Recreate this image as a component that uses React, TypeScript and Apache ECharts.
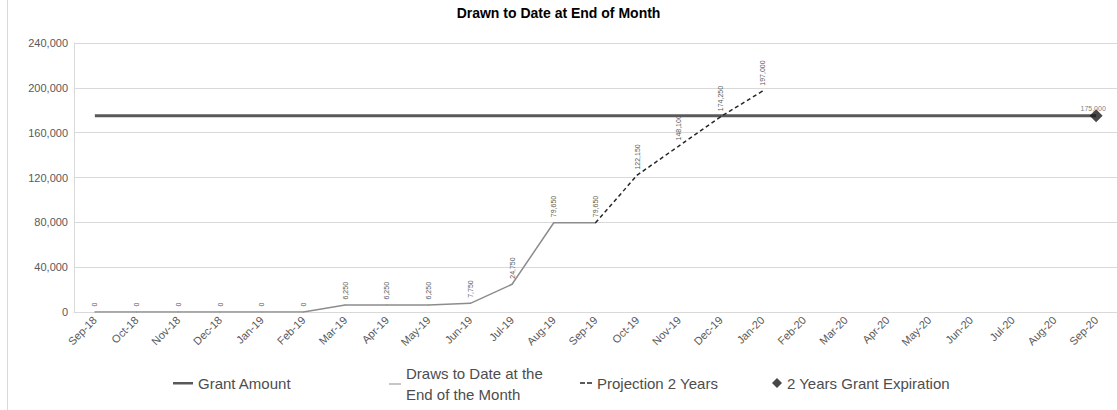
import React, { useEffect, useRef } from "react";
import * as echarts from "echarts";

const categories = [
  "Sep-18", "Oct-18", "Nov-18", "Dec-18", "Jan-19", "Feb-19", "Mar-19", "Apr-19",
  "May-19", "Jun-19", "Jul-19", "Aug-19", "Sep-19", "Oct-19", "Nov-19", "Dec-19",
  "Jan-20", "Feb-20", "Mar-20", "Apr-20", "May-20", "Jun-20", "Jul-20", "Aug-20", "Sep-20",
];

const grantAmount = [
  175000, 175000, 175000, 175000, 175000, 175000, 175000, 175000, 175000, 175000,
  175000, 175000, 175000, 175000, 175000, 175000, 175000, 175000, 175000, 175000,
  175000, 175000, 175000, 175000, 175000,
];

const drawsToDate = [
  0, 0, 0, 0, 0, 0, 6250, 6250, 6250, 7750, 24750, 79650, 79650,
  null, null, null, null, null, null, null, null, null, null, null, null,
];

const projection = [
  null, null, null, null, null, null, null, null, null, null, null, null, 79650,
  122150, 148100, 174250, 197000, null, null, null, null, null, null, null, null,
];

const expiration = [
  null, null, null, null, null, null, null, null, null, null, null, null, null,
  null, null, null, null, null, null, null, null, null, null, null, 175000,
];

const yTicks = [0, 40000, 80000, 120000, 160000, 200000, 240000];

const seriesNames = [
  "Grant Amount",
  "Draws to Date at the\nEnd of the Month",
  "Projection 2 Years",
  "2 Years Grant Expiration",
];

const FONT = "Liberation Sans, Arial, sans-serif";
const fmt = (v: number) => v.toLocaleString("en-US");

export default function App() {
  const ref = useRef<HTMLDivElement>(null);
  useEffect(() => {
    if (!ref.current) return;
    const chart = echarts.init(ref.current, null, { renderer: "svg" });
    const vLabel = {
      show: true,
      position: "top",
      rotate: 90,
      align: "left",
      verticalAlign: "middle",
      distance: 5,
      fontSize: 7,
      color: "#595959",
      fontFamily: FONT,
      formatter: (p: any) => fmt(p.value),
    };
    const legendBase = {
      itemWidth: 20,
      itemHeight: 12,
      itemGap: 0,
      padding: 0,
      selectedMode: false,
    };
    const legText = { fontSize: 15, color: "#4d4d4d", fontFamily: FONT, lineHeight: 18 };
    chart.setOption({
      animation: false,
      backgroundColor: "#ffffff",
      textStyle: { fontFamily: FONT },
      title: {
        text: "Drawn to Date at End of Month",
        left: "center",
        top: 1,
        textStyle: { fontSize: 14, fontWeight: "bold", color: "#000", fontFamily: FONT },
      },
      graphic: [
        { type: "line", shape: { x1: 7.5, y1: 0, x2: 7.5, y2: 410 }, style: { stroke: "#d9d9d9", lineWidth: 1 } },
      ],
      grid: { left: 74, top: 43, width: 1050, height: 269, containLabel: false },
      legend: [
        {
          ...legendBase,
          left: 173,
          top: 374,
          textStyle: legText,
          data: [{ name: seriesNames[0], icon: "path://M0,0M0,5h20v2.5h-20zM20,12" }],
        },
        {
          ...legendBase,
          left: 381,
          top: 363,
          textStyle: { ...legText, lineHeight: 21 },
          data: [{ name: seriesNames[1], icon: "path://M0,0M8,5.5h12v1h-12zM20,12" }],
        },
        {
          ...legendBase,
          left: 572,
          top: 374,
          textStyle: legText,
          data: [{ name: seriesNames[2], icon: "path://M0,0M8,5.3h5v1.5h-5zM15,5.3h5v1.5h-5zM20,12" }],
        },
        {
          ...legendBase,
          left: 762,
          top: 374,
          textStyle: legText,
          data: [{ name: seriesNames[3], icon: "path://M0,0M15,1L20,6L15,11L10,6zM20,12" }],
        },
      ],
      xAxis: {
        type: "category",
        data: categories,
        boundaryGap: true,
        axisTick: { show: false },
        axisLine: { show: true, lineStyle: { color: "#d9d9d9" } },
        axisLabel: { rotate: 45, fontSize: 11, color: "#595959", margin: 6, interval: 0, fontFamily: FONT },
      },
      yAxis: {
        type: "value",
        min: yTicks[0],
        max: yTicks[yTicks.length - 1],
        interval: 40000,
        axisLine: { show: true, lineStyle: { color: "#d9d9d9" } },
        axisTick: { show: false },
        splitLine: { lineStyle: { color: "#d9d9d9", width: 1 } },
        axisLabel: { fontSize: 11, color: "#595959", margin: 6, fontFamily: FONT, formatter: (v: number) => fmt(v) },
      },
      series: [
        {
          name: seriesNames[0],
          type: "line",
          data: grantAmount,
          symbol: "none",
          lineStyle: { color: "#595959", width: 3 },
          itemStyle: { color: "#595959" },
          z: 2,
        },
        {
          name: seriesNames[1],
          type: "line",
          data: drawsToDate,
          symbol: "circle",
          symbolSize: 1,
          showSymbol: true,
          lineStyle: { color: "#8c8c8c", width: 1.5 },
          itemStyle: { color: "#8c8c8c" },
          label: vLabel,
          z: 3,
        },
        {
          name: seriesNames[2],
          type: "line",
          data: projection,
          symbol: "circle",
          symbolSize: 1,
          showSymbol: true,
          lineStyle: { color: "#262626", width: 1.5, type: [4, 3] },
          itemStyle: { color: "#262626" },
          label: {
            ...vLabel,
            formatter: (p: any) => (p.dataIndex === 12 ? "" : fmt(p.value)),
          },
          z: 4,
        },
        {
          name: seriesNames[3],
          type: "scatter",
          data: expiration,
          symbol: "diamond",
          symbolSize: 13,
          itemStyle: { color: "#1a1a1a" },
          label: {
            show: true,
            position: "top",
            offset: [-3, 8],
            fontSize: 7,
            color: "#595959",
            fontFamily: FONT,
            formatter: (p: any) => fmt(p.value),
          },
          z: 5,
        },
      ],
    });
    return () => chart.dispose();
  }, []);
  return (
    <div
      ref={ref}
      style={{ position: "absolute", left: 0, top: 0, width: 1117, height: 410 }}
    />
  );
}
